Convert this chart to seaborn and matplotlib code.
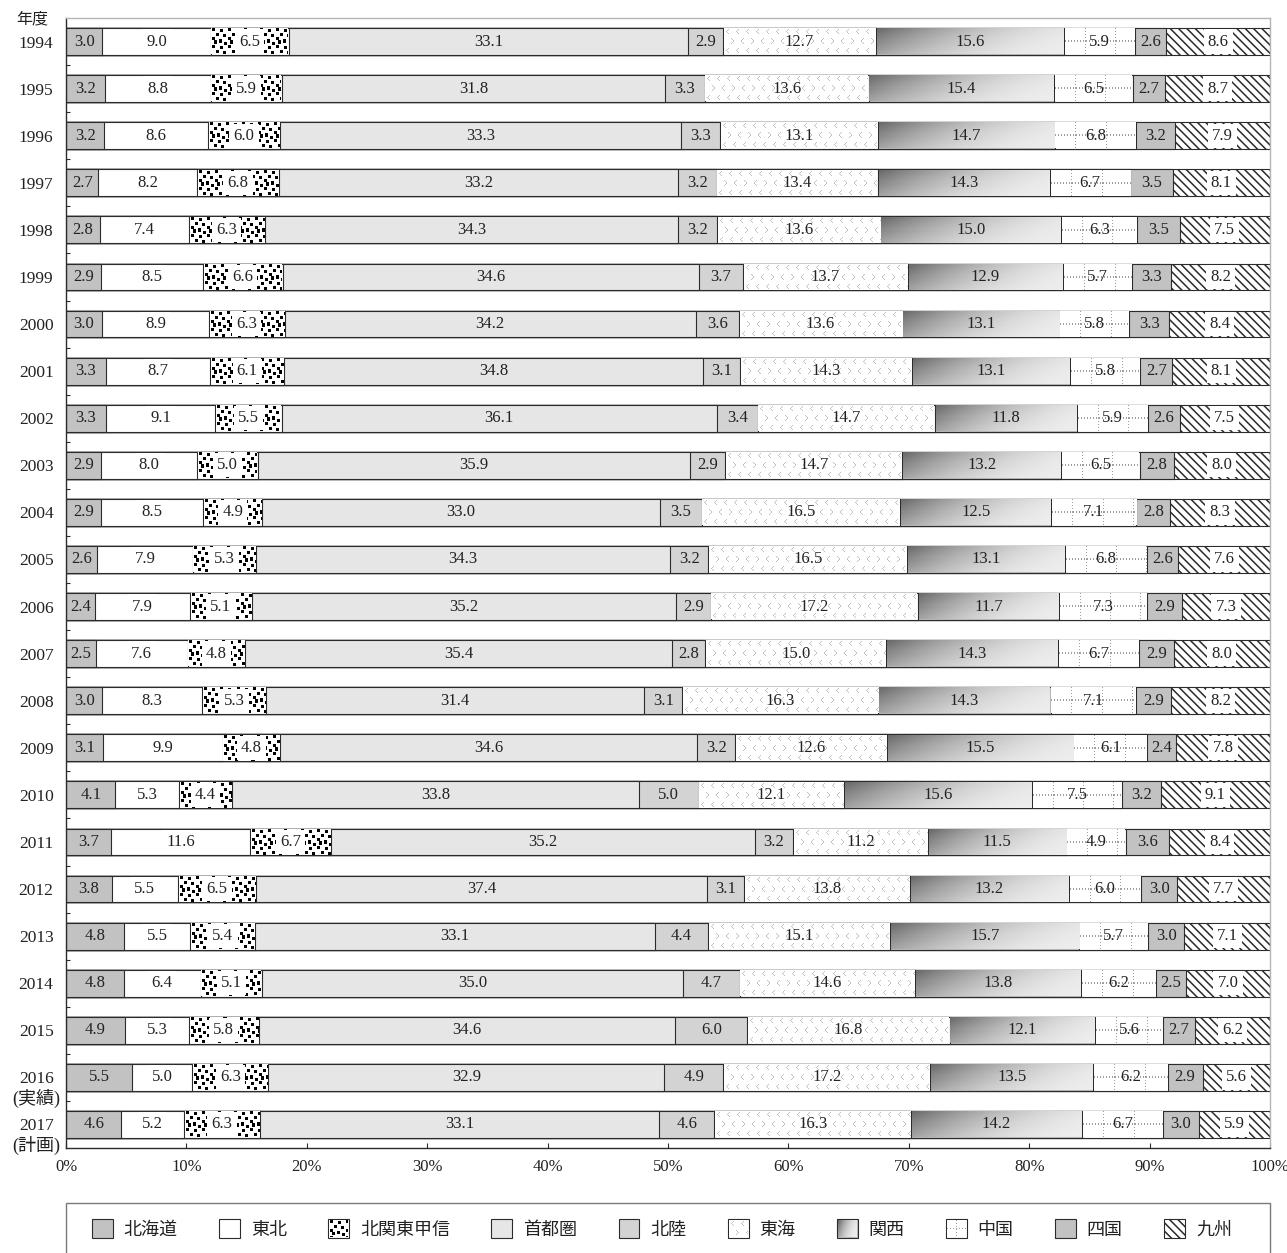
import numpy as np
import pandas as pd
import matplotlib
matplotlib.use("Agg")
import matplotlib.pyplot as plt
import matplotlib.ticker as mticker
import matplotlib.transforms as mtransforms
from matplotlib.patches import Patch, Rectangle
import seaborn as sns

# ---- data: regional share (%) by fiscal year ----
years = ["1994", "1995", "1996", "1997", "1998", "1999", "2000", "2001", "2002",
         "2003", "2004", "2005", "2006", "2007", "2008", "2009", "2010", "2011",
         "2012", "2013", "2014", "2015", "2016", "2017"]
year_notes = {"2016": "(実績)", "2017": "(計画)"}
regions = ["北海道", "東北", "北関東甲信", "首都圏", "北陸", "東海", "関西", "中国", "四国", "九州"]

hokkaido = [3.0, 3.2, 3.2, 2.7, 2.8, 2.9, 3.0, 3.3, 3.3, 2.9, 2.9, 2.6, 2.4, 2.5,
            3.0, 3.1, 4.1, 3.7, 3.8, 4.8, 4.8, 4.9, 5.5, 4.6]
tohoku = [9.0, 8.8, 8.6, 8.2, 7.4, 8.5, 8.9, 8.7, 9.1, 8.0, 8.5, 7.9, 7.9, 7.6,
          8.3, 9.9, 5.3, 11.6, 5.5, 5.5, 6.4, 5.3, 5.0, 5.2]
kitakanto = [6.5, 5.9, 6.0, 6.8, 6.3, 6.6, 6.3, 6.1, 5.5, 5.0, 4.9, 5.3, 5.1, 4.8,
             5.3, 4.8, 4.4, 6.7, 6.5, 5.4, 5.1, 5.8, 6.3, 6.3]
shutoken = [33.1, 31.8, 33.3, 33.2, 34.3, 34.6, 34.2, 34.8, 36.1, 35.9, 33.0, 34.3,
            35.2, 35.4, 31.4, 34.6, 33.8, 35.2, 37.4, 33.1, 35.0, 34.6, 32.9, 33.1]
hokuriku = [2.9, 3.3, 3.3, 3.2, 3.2, 3.7, 3.6, 3.1, 3.4, 2.9, 3.5, 3.2, 2.9, 2.8,
            3.1, 3.2, 5.0, 3.2, 3.1, 4.4, 4.7, 6.0, 4.9, 4.6]
tokai = [12.7, 13.6, 13.1, 13.4, 13.6, 13.7, 13.6, 14.3, 14.7, 14.7, 16.5, 16.5,
         17.2, 15.0, 16.3, 12.6, 12.1, 11.2, 13.8, 15.1, 14.6, 16.8, 17.2, 16.3]
kansai = [15.6, 15.4, 14.7, 14.3, 15.0, 12.9, 13.1, 13.1, 11.8, 13.2, 12.5, 13.1,
          11.7, 14.3, 14.3, 15.5, 15.6, 11.5, 13.2, 15.7, 13.8, 12.1, 13.5, 14.2]
chugoku = [5.9, 6.5, 6.8, 6.7, 6.3, 5.7, 5.8, 5.8, 5.9, 6.5, 7.1, 6.8, 7.3, 6.7,
           7.1, 6.1, 7.5, 4.9, 6.0, 5.7, 6.2, 5.6, 6.2, 6.7]
shikoku = [2.6, 2.7, 3.2, 3.5, 3.5, 3.3, 3.3, 2.7, 2.6, 2.8, 2.8, 2.6, 2.9, 2.9,
           2.9, 2.4, 3.2, 3.6, 3.0, 3.0, 2.5, 2.7, 2.9, 3.0]
kyushu = [8.6, 8.7, 7.9, 8.1, 7.5, 8.2, 8.4, 8.1, 7.5, 8.0, 8.3, 7.6, 7.3, 8.0,
          8.2, 7.8, 9.1, 8.4, 7.7, 7.1, 7.0, 6.2, 5.6, 5.9]

series = [hokkaido, tohoku, kitakanto, shutoken, hokuriku, tokai, kansai, chugoku, shikoku, kyushu]

# ---- long table with stacked extents (each row scaled to 100 %) ----
records = []
for yi, yr in enumerate(years):
    row = [s[yi] for s in series]
    total = sum(row)
    start = 0.0
    for reg, v in zip(regions, row):
        width = v / total * 100.0
        records.append(dict(year=yr, row=yi, region=reg, value=v,
                            start=start, end=start + width))
        start += width
df = pd.DataFrame(records)

# ---- styling ----
sns.set_theme(style="white")
plt.rcParams["font.family"] = ["Liberation Serif", "Noto Sans CJK JP", "DejaVu Sans"]
plt.rcParams["hatch.linewidth"] = 1.1

W, H = 1287, 1253
EDGE = "#2b2b2b"
TEXT = "#222222"
BAR_W = 0.57

face = {"北海道": "#c2c2c2", "東北": "white", "北関東甲信": "white", "首都圏": "#e6e6e6",
        "北陸": "#d3d3d3", "東海": "white", "関西": "#bdbdbd", "中国": "white",
        "四国": "#c2c2c2", "九州": "white"}
hatches = {"九州": "\\\\\\\\"}
boxed = {"東北", "北関東甲信", "九州"}


# ---- fill textures (pixel arrays) ----
def _tiled(tile, h, w):
    th, tw = tile.shape
    big = np.tile(tile, (h // th + 2, w // tw + 2))
    return big[:h, :w]


DOT_CELLS = [(0, 1), (1, 9), (5, 5), (6, 12), (9, 1), (11, 8), (13, 13), (12, 3)]


def tex_dots(h, w):
    tile = np.ones((16, 16))
    for r, c in DOT_CELLS:
        tile[r:r + 3, c:c + 3] = 0.0
    g = _tiled(tile, h, w)
    return np.dstack([g] * 3)


CHEV_L = [(0, 2), (1, 1), (2, 0), (3, 1), (4, 2)]
CHEV_R = [(0, 0), (1, 1), (2, 2), (3, 1), (4, 0)]


def tex_chevrons(h, w):
    tile = np.ones((18, 20))
    for r0, c0, shape in [(1, 2, CHEV_L), (1, 12, CHEV_L), (10, 7, CHEV_R), (10, 17, CHEV_L)]:
        for dr, dc in shape:
            tile[r0 + dr, c0 + dc] = 0.76
    g = _tiled(tile, h, w)
    return np.dstack([g] * 3)


def tex_dotgrid(h, w):
    g = np.ones((h, w))
    mid = h // 2
    g[mid, ::3] = 0.62
    for c in range(min(20, max(w // 2, 1)), w, 30):
        g[::3, c] = 0.62
    return np.dstack([g] * 3)


def tex_gradient(h, w):
    yy, xx = np.mgrid[0:h, 0:w]
    xf = xx / max(w - 1, 1)
    yf = yy / max(h - 1, 1)
    t = 0.75 * xf + 0.25 * yf
    g = 0.93 - 0.52 * (1 - t) ** 2
    return np.dstack([g] * 3)


textures = {"北関東甲信": tex_dots, "東海": tex_chevrons, "関西": tex_gradient, "中国": tex_dotgrid}

# ---- figure ----
fig = plt.figure(figsize=(W / 100, H / 100), dpi=100)
ax = fig.add_axes([66 / W, (H - 1148) / H, 1204 / W, 1130 / H])

# stacked bars: draw cumulative extents from the right-most region back to the left
for reg in reversed(regions):
    sub = df[df.region == reg]
    sns.barplot(data=sub, x="end", y="year", order=years, orient="h",
                color=face[reg], saturation=1, width=BAR_W, errorbar=None,
                edgecolor=EDGE, linewidth=0.8, hatch=hatches.get(reg, None),
                ax=ax, zorder=2)

ax.set_xlim(0, 100)
ax.set_ylim(len(years) - 0.5, -0.5)
ax.set_autoscale_on(False)

# pixel scale of the data units
px_x = abs(ax.transData.transform((1, 0))[0] - ax.transData.transform((0, 0))[0])
px_y = abs(ax.transData.transform((0, 1))[1] - ax.transData.transform((0, 0))[1])
ins_x, ins_y = 0.7 / px_x, 0.7 / px_y

for _, r in df.iterrows():
    reg = r["region"]
    yc = r["row"]
    x0, x1 = r["start"], r["end"]
    if reg in textures:
        w = max(int(round((x1 - x0) * px_x - 1.4)), 1)
        h = max(int(round(BAR_W * px_y - 1.4)), 1)
        img = textures[reg](h, w)
        ax.imshow(img, extent=(x0 + ins_x, x1 - ins_x, yc + BAR_W / 2 - ins_y, yc - BAR_W / 2 + ins_y),
                  origin="upper", aspect="auto", interpolation="nearest", zorder=2.5)
    kw = {}
    if reg in boxed:
        kw["bbox"] = dict(boxstyle="square,pad=0.25", facecolor="white", edgecolor="none")
    ax.text((x0 + x1) / 2, yc, f"{r['value']:.1f}", ha="center", va="center",
            fontsize=12, color=TEXT, zorder=3, **kw)

ax.set_xlim(0, 100)
ax.set_ylim(len(years) - 0.5, -0.5)

# axes cosmetics
ax.set_xlabel("")
ax.set_ylabel("")
ax.set_xticks(np.arange(0, 101, 10))
ax.xaxis.set_major_formatter(mticker.PercentFormatter(100, decimals=0))
ax.tick_params(axis="x", direction="in", length=3.5, width=0.8, color=EDGE,
               pad=8, labelsize=12, labelcolor=TEXT, bottom=True)
ax.set_yticks(range(len(years)))
ax.set_yticklabels(years)
ax.tick_params(axis="y", which="major", length=0, pad=9, labelsize=12.5, labelcolor=TEXT)
ax.yaxis.set_minor_locator(mticker.FixedLocator(np.arange(0.5, len(years) - 1, 1.0)))
ax.tick_params(axis="y", which="minor", direction="in", length=3, width=0.8, color=EDGE, left=True)
for side in ["left", "bottom"]:
    ax.spines[side].set_color(EDGE)
    ax.spines[side].set_linewidth(1.0)
for side in ["top", "right"]:
    ax.spines[side].set_color("#b5b5b5")
    ax.spines[side].set_linewidth(1.0)

# notes under the last two year labels
note_tr = mtransforms.blended_transform_factory(fig.transFigure, ax.transData)
for yr, note in year_notes.items():
    ax.text(60 / W, years.index(yr) + 0.44, note, transform=note_tr, ha="right", va="center",
            fontsize=13, color=TEXT, clip_on=False)

fig.text(32 / W, 1 - 19 / H, "年度", ha="center", va="center", fontsize=11.5,
         color=TEXT, family=["Noto Sans CJK JP"])

# ---- legend ----
handles = [Patch(facecolor=face[reg], edgecolor=EDGE, linewidth=0.8, hatch=hatches.get(reg, None))
           for reg in regions]
leg = fig.legend(handles=handles, labels=regions, loc="center left",
                 bbox_to_anchor=(92 / W, 1 - 1229 / H, (1232 - 92) / W, 0),
                 mode="expand", ncol=len(regions), frameon=False, borderpad=0, borderaxespad=0,
                 handlelength=1.15, handleheight=1.2, handletextpad=0.6,
                 prop=dict(family=["Noto Sans CJK JP"], size=13))
for t in leg.get_texts():
    t.set_color(TEXT)
fig.add_artist(Rectangle((66 / W, -0.02), 1204 / W, (1253 - 1203) / H + 0.02,
                         transform=fig.transFigure, fill=False, edgecolor="#7a7a7a",
                         linewidth=1.0, clip_on=False))

fig.canvas.draw()
renderer = fig.canvas.get_renderer()
for reg, hp in zip(regions, leg.legend_handles):
    if reg in textures:
        bb = hp.get_window_extent(renderer)
        w = int(round(bb.width)) - 2
        h = int(round(bb.height)) - 2
        fig.figimage(textures[reg](h, w), xo=int(round(bb.x0)) + 1, yo=int(round(bb.y0)) + 1,
                     origin="upper", zorder=10)

fig.savefig("out.png", dpi=100)
